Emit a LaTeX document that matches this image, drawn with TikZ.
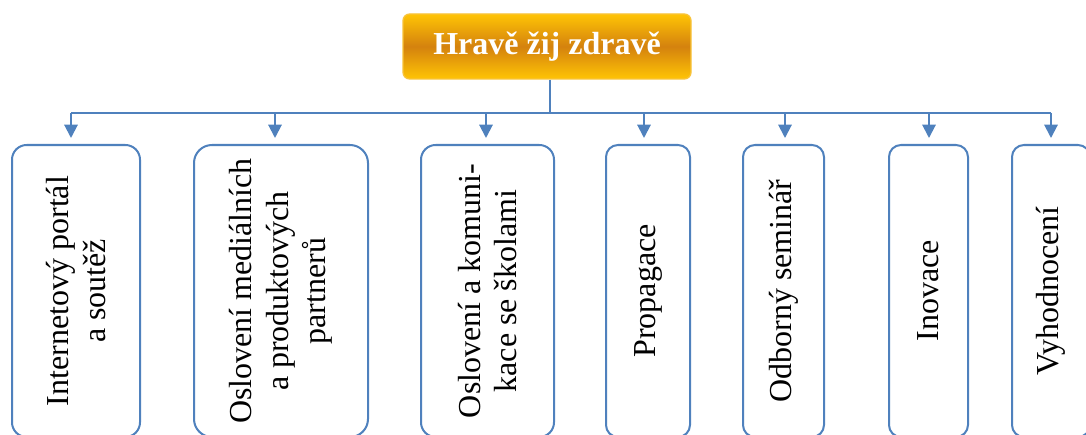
\documentclass[tikz,border=0pt]{standalone}
\usepackage{fontspec}
\setmainfont{Liberation Serif}
\usetikzlibrary{arrows.meta}
\definecolor{lineblue}{HTML}{4F81BD}
\definecolor{gold}{HTML}{FFC405}
\definecolor{amber}{HTML}{D4820E}
\definecolor{goldedge}{HTML}{F8C33A}
\newcommand\itemfont{\fontsize{24pt}{27.6pt}\selectfont}
\begin{document}
\begin{tikzpicture}[x=0.75pt,y=-0.75pt,
  title/.style={rounded corners=5pt, minimum width=216pt, minimum height=48.75pt,
    draw=goldedge, line width=1pt, top color=gold, bottom color=gold, middle color=amber,
    text=white, inner sep=0pt, font=\bfseries\itemfont},
  sub/.style={draw=lineblue, line width=1.5pt, fill=white, rotate=90,
    minimum width=219pt, align=center, inner sep=0pt, font=\itemfont},
  link/.style={draw=lineblue, line width=1.5pt},
  arr/.style={link, -{Triangle[width=10pt,length=10pt]}, shorten >=4.5pt}]
\useasboundingbox (0,0) rectangle (1086,435);
\clip (0,0) rectangle (1086,435);

% heading
\node[title] (t) at (547,46.5) {Hravě žij zdravě};

% activity boxes
\node[sub, minimum height=96pt,   rounded corners=11pt] (b1) at (76,291)   {Internetový portál\\a soutěž};
\node[sub, minimum height=130.5pt,rounded corners=13.5pt] (b2) at (281,291) {Oslovení mediálních\\a produktových\\partnerů};
\node[sub, minimum height=99.75pt,rounded corners=11pt] (b3) at (487.5,291) {Oslovení a komuni-\\kace se školami};
\node[sub, minimum height=63pt,   rounded corners=9pt] (b4) at (648,291)   {Propagace};
\node[sub, minimum height=60.75pt,rounded corners=9pt] (b5) at (783.5,291) {Odborný seminář};
\node[sub, minimum height=59.25pt,rounded corners=9pt] (b6) at (928.5,291) {Inovace};
\node[sub, minimum height=58.5pt, rounded corners=9pt] (b7) at (1051,291)  {Vyhodnocení};

% distribution bus
\coordinate (hub) at (550,113);
\coordinate (j1) at (71,113);
\coordinate (j2) at (275,113);
\coordinate (j3) at (486,113);
\coordinate (j4) at (644,113);
\coordinate (j5) at (785,113);
\coordinate (j6) at (929,113);
\coordinate (j7) at (1051,113);

\draw[link] (t.south -| hub) -- (hub);
\draw[link] (j1) -- (j7);
\foreach \i in {1,...,7}{
  \draw[arr] (j\i) -- (j\i |- b\i.east);
}
\end{tikzpicture}
\end{document}
